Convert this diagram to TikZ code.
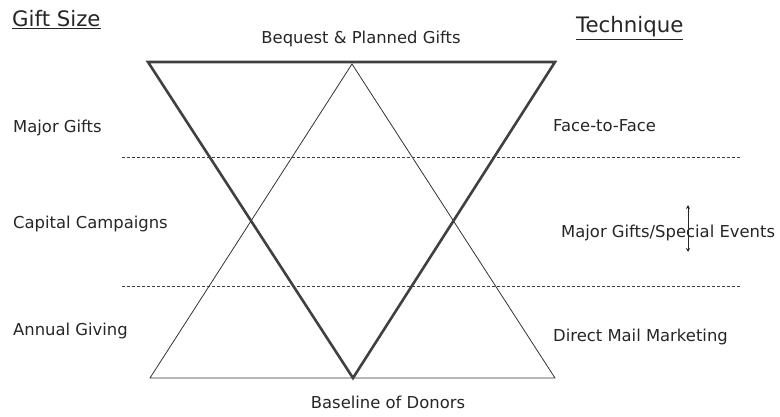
\documentclass[tikz,border=0pt]{standalone}
\usepackage{fontspec}
\setmainfont{DejaVu Sans}
\usetikzlibrary{arrows.meta}
\begin{document}
\begin{tikzpicture}[x=1pt,y=-1pt,
  lbl/.style={font=\fontsize{16.4}{18}\selectfont, inner sep=0pt, text=black!85},
  head/.style={font=\fontsize{21.3}{23}\selectfont, inner sep=0pt, text=black!85},
  thickline/.style={line width=2.6pt, draw=black!75, line join=miter},
  thinline/.style={line width=0.8pt, draw=black!80},
  dashline/.style={line width=0.7pt, draw=black!75, dash pattern=on 3pt off 2pt}]
\useasboundingbox (0,0) rectangle (780,417);
% coordinates
\coordinate (itl) at (148,62);
\coordinate (itr) at (555,62);
\coordinate (ibot) at (353,378);
\coordinate (ubl) at (150,378);
\coordinate (ubr) at (555,378);
\coordinate (utop) at (352,64);
\coordinate (d1l) at (122,157);
\coordinate (d1r) at (740,157);
\coordinate (d2l) at (122,286);
\coordinate (d2r) at (740,286);
\coordinate (aup) at (688,205);
\coordinate (adn) at (688,252);
% upright thin triangle
\draw[thinline] (ubl) -- (utop) -- (ubr) -- cycle;
% inverted thick triangle
\draw[thickline] (itl) -- (itr) -- (ibot) -- cycle;
% dashed lines
\draw[dashline] (d1l) -- (d1r);
\draw[dashline] (d2l) -- (d2r);
% labels
\node[head, anchor=base west] (gs) at (12,27) {\underline{Gift Size}};
\node[head, anchor=base west] (tq) at (576,33) {\underline{Technique}};
\node[lbl, anchor=base] (bq) at (361,44) {Bequest \& Planned Gifts};
\node[lbl, anchor=base west] (mg) at (13,133) {Major Gifts};
\node[lbl, anchor=base west] (ff) at (553,132) {Face-to-Face};
\node[lbl, anchor=base west] (cc) at (13,229) {Capital Campaigns};
\node[lbl, anchor=base west] (ms) at (561,237) {Major Gifts/Special Events};
\node[lbl, anchor=base west] (ag) at (13,335) {Annual Giving};
\node[lbl, anchor=base west] (dm) at (553,341) {Direct Mail Marketing};
\node[lbl, anchor=base] (bd) at (388,408) {Baseline of Donors};
% double arrow
\draw[line width=0.7pt, black!85, {Stealth[length=4pt,width=4pt]}-{Stealth[length=4pt,width=4pt]}] (aup) -- (adn);
\end{tikzpicture}
\end{document}
